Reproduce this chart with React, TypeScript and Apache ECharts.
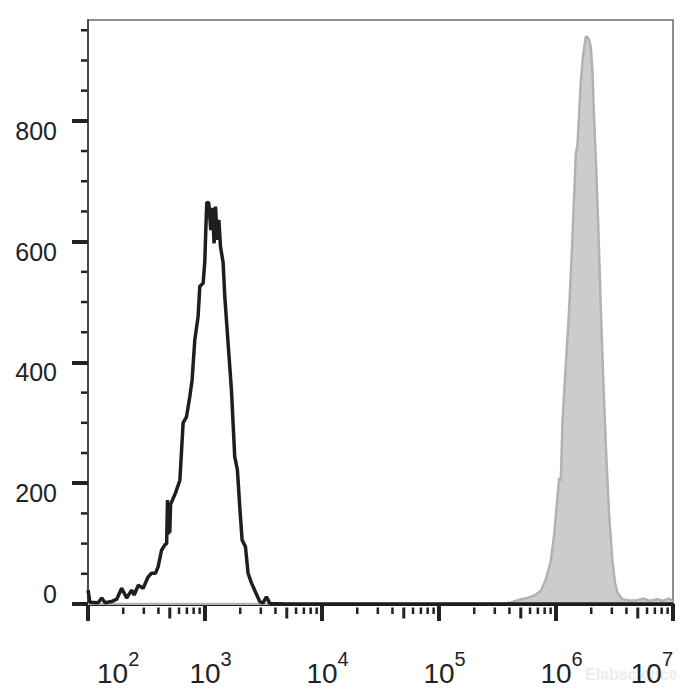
import React, { useEffect, useRef } from "react";
import * as echarts from "echarts";

// Unstained / control histogram (black line): fluorescence intensity, count
const BLACK_X = [100, 104, 122, 131, 140, 159, 176, 194, 214, 236, 248, 269, 296, 327, 349, 378, 398, 425, 454, 470, 478, 486, 494, 500, 508, 560, 610, 650, 695, 741, 776, 818, 873, 903, 964, 996, 1016, 1036, 1077, 1120, 1158, 1196, 1230, 1271, 1313, 1356, 1429, 1476, 1575, 1683, 1795, 1892, 1982, 2075, 2216, 2334, 2493, 2698, 2938, 3135, 3350, 3573, 5000, 100000, 10000000];
const BLACK_Y = [23, 3, 2, 10, 2, 4, 8, 26, 10, 23, 15, 31, 26, 45, 51, 51, 62, 89, 98, 100, 172, 115, 160, 118, 165, 184, 205, 300, 310, 343, 371, 437, 476, 526, 531, 567, 619, 665, 664, 619, 656, 597, 658, 603, 636, 592, 565, 509, 432, 354, 244, 222, 161, 106, 95, 51, 35, 20, 4, 2, 12, 1, 0, 0, 0];

// Stained histogram (grey filled)
const GRAY_X = [100, 350000, 420000, 485000, 571000, 652000, 743000, 820000, 904000, 966000, 1030000, 1064000, 1100000, 1136000, 1214000, 1297000, 1367000, 1430000, 1479000, 1525000, 1630000, 1706000, 1800000, 1893000, 1986000, 2047000, 2118000, 2218000, 2306000, 2415000, 2542000, 2698000, 2844000, 3035000, 3200000, 3350000, 3690000, 4220000, 4810000, 5660000, 6240000, 7350000, 8110000, 9250000, 10000000];
const GRAY_Y = [0, 0, 3, 7, 10, 14, 22, 41, 72, 116, 178, 209, 204, 303, 397, 490, 585, 678, 747, 759, 865, 909, 940, 937, 922, 884, 803, 709, 616, 490, 365, 240, 147, 72, 34, 19, 8, 6, 6, 9, 5, 8, 5, 9, 4];

// Axis ticks
const Y_MAJOR = [0, 200, 400, 600, 800];
const Y_MINOR = [50, 100, 150, 250, 300, 350, 450, 500, 550, 650, 700, 750, 850, 900, 950];
const X_DECADES = [100, 1000, 10000, 100000, 1000000];
const X_MULTS = [2, 3, 4, 5, 6, 7, 8, 9];
const X_MIN = 100;
const X_MAX = 10000000;
const Y_MAX = 967;

const FONT = "'Liberation Sans', Arial, Helvetica, sans-serif";

export default function App() {
  const ref = useRef<HTMLDivElement>(null);

  useEffect(() => {
    if (!ref.current) return;
    const chart = echarts.init(ref.current, undefined, { renderer: "svg" });

    const blackData = BLACK_X.map((x, i) => [x, BLACK_Y[i]]);
    const grayData = GRAY_X.map((x, i) => [x, GRAY_Y[i]]);
    const xMinor: number[][] = [];
    X_DECADES.forEach((d) => X_MULTS.forEach((m) => xMinor.push([d * m, m])));
    const yMinor = Y_MINOR.map((v) => [X_MIN, v]);

    chart.setOption({
      animation: false,
      backgroundColor: "#ffffff",
      grid: {
        left: 88,
        right: 27,
        top: 20,
        bottom: 96,
        show: true,
        borderColor: "#6a6a6a",
        borderWidth: 1.5,
        backgroundColor: "transparent",
      },
      xAxis: {
        type: "log",
        logBase: 10,
        min: X_MIN,
        max: X_MAX,
        splitNumber: 5,
        offset: 2,
        axisLine: { show: true, lineStyle: { color: "#1a1a1a", width: 3 } },
        axisTick: { show: true, length: 17, lineStyle: { color: "#222", width: 4 } },
        minorTick: { show: false },
        splitLine: { show: false },
        axisLabel: {
          margin: 43,
          alignMinLabel: "left",
          alignMaxLabel: "right",
          formatter: (v: number) => {
            const e = Math.round(Math.log10(v));
            const pre = e === 2 ? "{p| }" : e === 7 ? "" : "{q| }";
            return pre + "{b|10}{s|" + e + "}";
          },
          rich: {
            p: { width: 9, fontSize: 28, verticalAlign: "top" },
            q: { width: 11, fontSize: 28, verticalAlign: "top" },
            b: { fontSize: 28, color: "#222", fontFamily: FONT, verticalAlign: "top", padding: [10, 0, 0, 0] },
            s: { fontSize: 20, color: "#222", fontFamily: FONT, verticalAlign: "top" },
          },
        },
      },
      yAxis: {
        type: "value",
        min: 0,
        max: Y_MAX,
        interval: 200,
        axisLine: { show: true, lineStyle: { color: "#333", width: 1.5 } },
        axisTick: { show: true, length: 16, lineStyle: { color: "#222", width: 4 }, customValues: Y_MAJOR },
        splitLine: { show: false },
        axisLabel: {
          customValues: Y_MAJOR,
          margin: 31,
          fontSize: 25,
          lineHeight: 20,
          color: "#222",
          fontFamily: FONT,
          verticalAlign: "top",
          verticalAlignMinLabel: "bottom",
          verticalAlignMaxLabel: "top",
        },
      },
      graphic: [
        {
          type: "text",
          left: 585,
          top: 666,
          z: 0,
          style: { text: "Elabscience", fontSize: 16, fontWeight: "bold", fill: "#ececec", fontFamily: FONT },
        },
      ],
      series: [
        {
          name: "stained",
          type: "line",
          data: grayData,
          showSymbol: false,
          symbol: "none",
          z: 2,
          lineStyle: { color: "#b2b2b2", width: 2.5 },
          areaStyle: { color: "#cccccc", opacity: 1 },
        },
        {
          name: "control",
          type: "line",
          data: blackData,
          showSymbol: false,
          symbol: "none",
          z: 3,
          lineStyle: { color: "#1e1e1e", width: 3.5 },
        },
        {
          name: "xMinorTicks",
          type: "custom",
          silent: true,
          z: 4,
          data: xMinor,
          encode: { x: 0 },
          renderItem: (params: any, api: any) => {
            const v = api.value(0);
            const m = api.value(1);
            const p = api.coord([v, 0]);
            const y0 = p[1] + 3.5;
            const len = m === 5 ? 11 : 6.5;
            return {
              type: "line",
              shape: { x1: p[0], y1: y0, x2: p[0], y2: y0 + len },
              style: { stroke: "#222", lineWidth: m === 5 ? 3 : 2.5 },
            };
          },
        },
        {
          name: "yMinorTicks",
          type: "custom",
          silent: true,
          z: 4,
          data: yMinor,
          renderItem: (params: any, api: any) => {
            const p = api.coord([api.value(0), api.value(1)]);
            return {
              type: "line",
              shape: { x1: p[0] - 7, y1: p[1], x2: p[0] - 0.75, y2: p[1] },
              style: { stroke: "#222", lineWidth: 2.5 },
            };
          },
        },
      ],
    });

    return () => chart.dispose();
  }, []);

  return (
    <div
      ref={ref}
      style={{ position: "fixed", left: 0, top: 0, width: 700, height: 700, background: "#fff" }}
    />
  );
}
